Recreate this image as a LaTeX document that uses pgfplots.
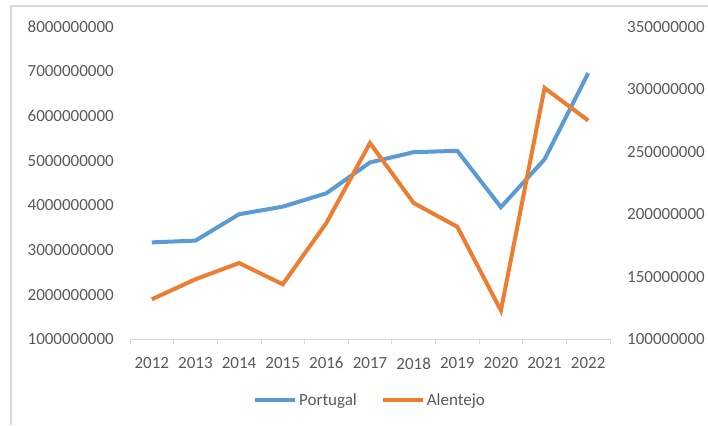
\documentclass[border=0pt]{standalone}
\usepackage{pgfplots}
\pgfplotsset{compat=1.18}
\usepackage{fontspec}
\setmainfont{Carlito}
\definecolor{pblue}{HTML}{5B9BD5}
\definecolor{porange}{HTML}{ED7D31}
\definecolor{tgray}{HTML}{595959}
\definecolor{lgray}{HTML}{D9D9D9}
\begin{document}
\begin{tikzpicture}[x=1pt,y=1pt]
\useasboundingbox (0,0) rectangle (708,425);
\draw[lgray, line width=1.2pt] (11,0) -- (11,419) -- (708,419);
\begin{axis}[
  at={(130pt,85.7pt)}, anchor=south west,
  scale only axis, width=480pt, height=312.6pt,
  xmin=-0.5, xmax=10.5, ymin=1000000000, ymax=8000000000,
  scaled y ticks=false,
  axis x line*=bottom, axis y line*=left,
  x axis line style={draw=lgray, line width=0.8pt, -},
  y axis line style={draw=none},
  xtick={0,...,10},
  xticklabels={2012,2013,2014,2015,2016,2017,2018,2019,2020,2021,2022},
  major x tick style={draw=none},
  minor xtick={-0.5,0.5,...,10.5},
  minor x tick style={draw=lgray, line width=0.8pt},
  minor tick length=5pt,
  tick align=outside,
  ytick={1000000000,2000000000,3000000000,4000000000,5000000000,6000000000,7000000000,8000000000},
  yticklabels={1000000000,2000000000,3000000000,4000000000,5000000000,6000000000,7000000000,8000000000},
  major y tick style={draw=none},
  major tick length=0pt,
  every tick label/.append style={font=\fontsize{17}{19}\selectfont, text=tgray, inner sep=0pt},
  x tick label style={anchor=center, yshift=-24pt},
  y tick label style={anchor=east, xshift=-16pt},
  legend style={at={(0.5,-0.194)}, anchor=center, draw=none, fill=none,
    legend columns=2, font=\fontsize{17}{19}\selectfont, text=tgray,
    /tikz/every even column/.append style={column sep=22pt}},
  legend image code/.code={\draw[#1] (0pt,0pt) -- (40pt,0pt);},
]
\addplot[pblue, line width=4pt] coordinates {
(0,3170000000) (1,3210000000) (2,3800000000) (3,3970000000) (4,4270000000)
(5,4960000000) (6,5190000000) (7,5220000000) (8,3960000000) (9,5030000000) (10,6960000000)};
\addlegendentry{Portugal}
\addlegendimage{porange, line width=4pt}
\addlegendentry{Alentejo}
\end{axis}
\begin{axis}[
  at={(130pt,85.7pt)}, anchor=south west,
  scale only axis, width=480pt, height=312.6pt,
  xmin=-0.5, xmax=10.5, ymin=100000000, ymax=350000000,
  scaled y ticks=false,
  axis x line=none, axis y line*=right,
  y axis line style={draw=none},
  xtick=\empty,
  ytick={100000000,150000000,200000000,250000000,300000000,350000000},
  yticklabels={100000000,150000000,200000000,250000000,300000000,350000000},
  major y tick style={draw=none},
  major tick length=0pt,
  every tick label/.append style={font=\fontsize{17}{19}\selectfont, text=tgray, inner sep=0pt},
  y tick label style={anchor=west, xshift=17pt},
]
\addplot[porange, line width=4pt] coordinates {
(0,132000000) (1,148000000) (2,161000000) (3,144000000) (4,193000000)
(5,257000000) (6,209000000) (7,190000000) (8,123000000) (9,301000000) (10,275000000)};
\end{axis}
\end{tikzpicture}
\end{document}
